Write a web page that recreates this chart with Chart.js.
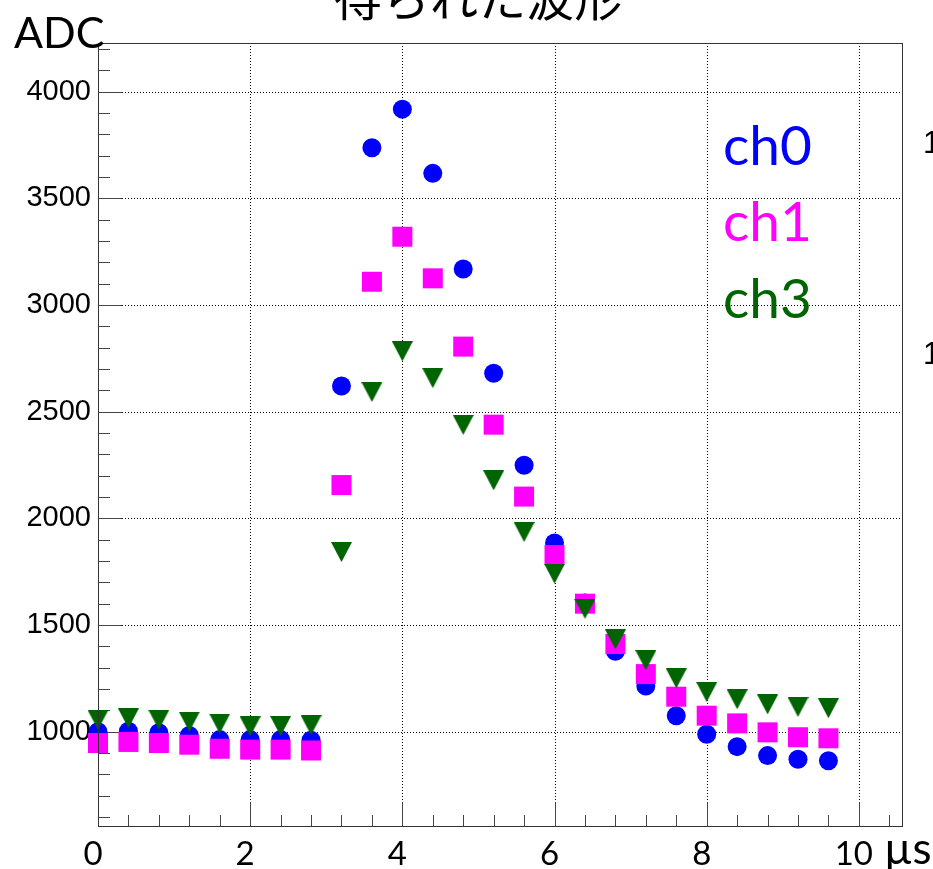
<!DOCTYPE html>
<html>
<head>
<meta charset="utf-8">
<script src="https://cdn.jsdelivr.net/npm/chart.js@4.4.1/dist/chart.umd.min.js"></script>
<style>
  html, body { margin: 0; padding: 0; background: #fff; }
  #wrap { width: 933px; height: 869px; position: relative; }
</style>
</head>
<body>
<div id="wrap"><canvas id="waveChart"></canvas></div>
<script>
// sample times (us) and ADC values
const timeUs = [0, 0.4, 0.8, 1.2, 1.6, 2.0, 2.4, 2.8, 3.2, 3.6, 4.0, 4.4, 4.8,
                5.2, 5.6, 6.0, 6.4, 6.8, 7.2, 7.6, 8.0, 8.4, 8.8, 9.2, 9.6];
const ch0Adc = [1000, 1002, 995, 982, 963, 963, 963, 960, 2620, 3737, 3918, 3617, 3169,
                2680, 2249, 1885, 1603, 1377, 1214, 1075, 988, 930, 888, 871, 864];
const ch1Adc = [947, 952, 947, 939, 920, 916, 916, 912, 2156, 3109, 3320, 3125, 2805,
                2439, 2102, 1828, 1600, 1411, 1270, 1164, 1075, 1039, 997, 974, 969];
const ch3Adc = [1056, 1063, 1056, 1047, 1038, 1025, 1027, 1031, 1842, 2592, 2783, 2657, 2438,
                2178, 1936, 1741, 1576, 1433, 1335, 1250, 1186, 1152, 1128, 1116, 1110];

const channelNames = ['ch0', 'ch1', 'ch3'];
const channelColors = ['#0000ff', '#ff00ff', '#006400'];
const xTickValues = [0, 2, 4, 6, 8, 10];
const yTickValues = [1000, 1500, 2000, 2500, 3000, 3500, 4000];
const titleText = '得られた波形';
const yAxisTitle = 'ADC';
const xAxisUnit = 'µs';

function toPoints(values) {
    return values.map((v, i) => ({ x: timeUs[i], y: v }));
}

// ROOT style down-triangle, centred on its bounding box
function makeDownTriangle(color) {
    const c = document.createElement('canvas');
    c.width = 21; c.height = 20;
    const g = c.getContext('2d');
    g.fillStyle = color;
    g.beginPath();
    g.moveTo(0, 0);
    g.lineTo(21, 0);
    g.lineTo(10.5, 20);
    g.closePath();
    g.fill();
    return c;
}

// grid, ticks, frame and the loose text around the plot
const rootFrame = {
    id: 'rootFrame',
    beforeDatasetsDraw(chart) {
        const { ctx, chartArea: { left, right, top, bottom }, scales: { x, y } } = chart;
        ctx.save();
        ctx.strokeStyle = '#000';
        ctx.lineWidth = 1;
        ctx.setLineDash([1, 2]);
        yTickValues.forEach(v => {
            const py = Math.round(y.getPixelForValue(v)) + 0.5;
            ctx.beginPath(); ctx.moveTo(left, py); ctx.lineTo(right, py); ctx.stroke();
        });
        xTickValues.forEach(v => {
            if (v === 0) return;
            const px = Math.round(x.getPixelForValue(v)) + 0.5;
            ctx.beginPath(); ctx.moveTo(px, top); ctx.lineTo(px, bottom); ctx.stroke();
        });
        ctx.setLineDash([]);

        // tick marks (major every 500 / 2, minor every 100 / 0.4)
        ctx.strokeStyle = '#444';
        for (let k = 6; k <= 42; k++) {
            const v = k * 100;
            const py = Math.round(y.getPixelForValue(v)) + 0.5;
            const len = (v % 500 === 0) ? 24 : 12;
            ctx.beginPath(); ctx.moveTo(left, py); ctx.lineTo(left + len, py); ctx.stroke();
        }
        for (let k = 0; k <= 26; k++) {
            const v = k * 0.4;
            const px = Math.round(x.getPixelForValue(v)) + 0.5;
            const len = (k % 5 === 0) ? 24 : 11;
            ctx.beginPath(); ctx.moveTo(px, bottom); ctx.lineTo(px, bottom - len); ctx.stroke();
        }
        ctx.restore();
    },
    afterDraw(chart) {
        const { ctx, chartArea: { left, right, top, bottom } } = chart;
        ctx.save();
        ctx.strokeStyle = '#333';
        ctx.lineWidth = 1;
        ctx.strokeRect(left + 0.5, top + 0.5, right - left - 1, bottom - top);

        ctx.fillStyle = '#000';
        ctx.textAlign = 'center';
        ctx.textBaseline = 'alphabetic';
        ctx.font = '48px "Noto Sans CJK JP"';
        ctx.fillText(titleText, 478, 16);

        ctx.textAlign = 'left';
        ctx.font = '43px Lato';
        ctx.fillText(yAxisTitle, 14, 48);

        ctx.font = '44px Lato';
        ctx.fillText(xAxisUnit, 884, 864);

        ctx.font = '31px "Liberation Sans"';
        ctx.fillText('1', 923, 153);
        ctx.fillText('1', 923, 364);

        ctx.font = '55px Lato';
        const baselines = [165, 241, 318];
        channelNames.forEach((name, i) => {
            ctx.fillStyle = channelColors[i];
            ctx.fillText(name, 723, baselines[i]);
        });
        ctx.restore();
    }
};

const ctx = document.getElementById('waveChart').getContext('2d');
window.waveChart = new Chart(ctx, {
    type: 'scatter',
    data: {
        datasets: [
            {
                label: channelNames[0],
                data: toPoints(ch0Adc),
                pointStyle: 'circle',
                pointRadius: 9.5,
                backgroundColor: channelColors[0],
                borderWidth: 0,
                clip: false,
                order: 2
            },
            {
                label: channelNames[1],
                data: toPoints(ch1Adc),
                pointStyle: 'rect',
                pointRadius: 14.14,
                backgroundColor: channelColors[1],
                borderWidth: 0,
                clip: false,
                order: 1
            },
            {
                label: channelNames[2],
                data: toPoints(ch3Adc),
                pointStyle: makeDownTriangle(channelColors[2]),
                pointRadius: 10,
                backgroundColor: channelColors[2],
                borderWidth: 0,
                clip: false,
                order: 0
            }
        ]
    },
    options: {
        responsive: true,
        maintainAspectRatio: false,
        animation: false,
        events: [],
        layout: { padding: { left: 0, top: 43, right: 30, bottom: 0 } },
        plugins: { legend: { display: false }, tooltip: { enabled: false }, title: { display: false } },
        scales: {
            x: {
                type: 'linear',
                min: 0,
                max: 10.58,
                afterBuildTicks: axis => { axis.ticks = xTickValues.map(v => ({ value: v })); },
                afterFit: scale => { scale.height = 43; },
                grid: { display: false, drawTicks: false },
                border: { display: false },
                ticks: {
                    color: '#000',
                    font: { family: 'Lato', size: 33, lineHeight: 1 },
                    padding: 12,
                    labelOffset: -5,
                    maxRotation: 0,
                    autoSkip: false,
                    callback: v => String(v)
                }
            },
            y: {
                type: 'linear',
                min: 558,
                max: 4228,
                afterBuildTicks: axis => { axis.ticks = yTickValues.map(v => ({ value: v })); },
                afterFit: scale => { scale.width = 98; },
                grid: { display: false, drawTicks: false },
                border: { display: false },
                ticks: {
                    color: '#000',
                    font: { family: 'Liberation Sans', size: 29 },
                    padding: 7,
                    autoSkip: false,
                    callback: v => String(v)
                }
            }
        }
    },
    plugins: [rootFrame]
});
</script>
</body>
</html>
